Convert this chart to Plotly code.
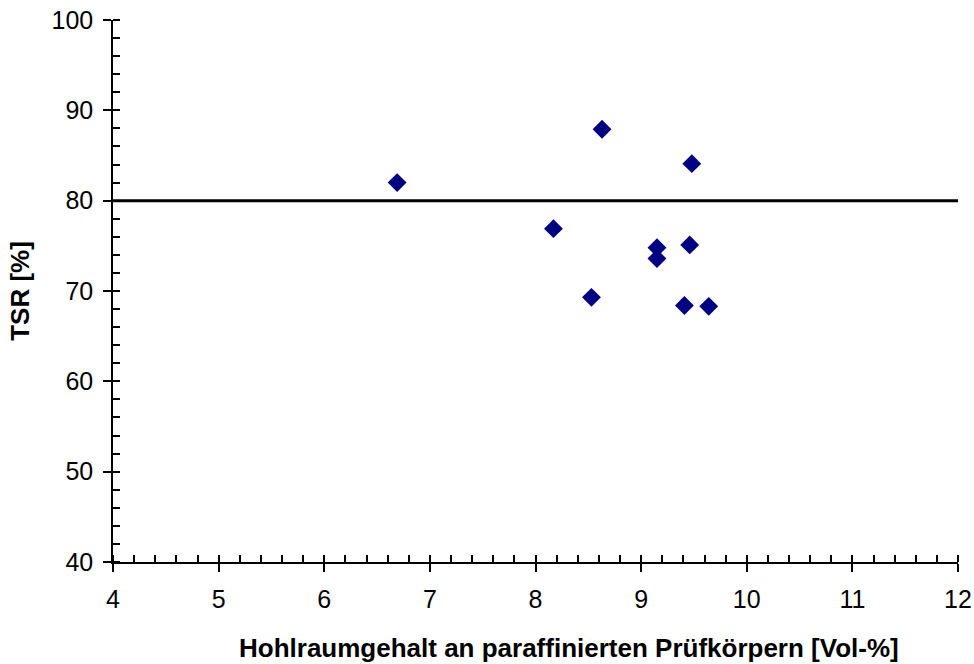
import plotly.graph_objects as go

# Data
hohlraum = [6.69, 8.63, 9.48, 8.17, 9.15, 9.15, 9.46, 8.53, 9.41, 9.64]
tsr = [82.0, 87.9, 84.1, 76.9, 74.8, 73.6, 75.1, 69.3, 68.4, 68.3]
grenzwert = 80

x_range = [4, 12]
y_range = [40, 100]

x_title = "Hohlraumgehalt an paraffinierten Prüfkörpern [Vol-%]"
y_title = "TSR [%]"

fig = go.Figure()

fig.add_trace(go.Scatter(
    x=hohlraum, y=tsr, mode="markers",
    marker=dict(symbol="diamond", size=14.5, color="#000080", line=dict(width=0)),
    showlegend=False, hoverinfo="x+y",
))

fig.add_shape(type="line", xref="x domain", yref="y", x0=0, x1=1,
              y0=grenzwert, y1=grenzwert, line=dict(color="black", width=3))

font_family = "Liberation Sans, Arial, sans-serif"
tick_size = 25
title_size = 26

fig.add_annotation(
    text="<b>" + x_title + "</b>", xref="paper", yref="paper",
    x=0.5396, y=-0.1587, xanchor="center", yanchor="middle",
    showarrow=False, font=dict(size=title_size, family=font_family, color="black"),
)

fig.update_layout(
    width=974, height=664,
    margin=dict(l=113, r=16, t=20, b=102),
    paper_bgcolor="white", plot_bgcolor="white",
    font=dict(family=font_family, size=tick_size, color="black"),
    xaxis=dict(
        range=x_range, dtick=1, tick0=4, automargin=False,
        showgrid=False, zeroline=False,
        showline=True, linecolor="black", linewidth=1.5,
        ticks="outside", ticklen=8, tickwidth=1.5, tickcolor="black",
        minor=dict(dtick=0.2, ticks="inside", ticklen=7, tickwidth=1.5, tickcolor="black", showgrid=False),
        tickfont=dict(size=tick_size), ticklabelstandoff=6,
    ),
    yaxis=dict(
        range=y_range, dtick=10, tick0=40, automargin=False,
        showgrid=False, zeroline=False,
        showline=True, linecolor="black", linewidth=1.5,
        ticks="outside", ticklen=8, tickwidth=1.5, tickcolor="black",
        minor=dict(dtick=2, ticks="inside", ticklen=7, tickwidth=1.5, tickcolor="black", showgrid=False),
        title=dict(text="<b>" + y_title + "</b>", standoff=14, font=dict(size=title_size)),
        tickfont=dict(size=tick_size), ticklabelstandoff=5,
    ),
    xaxis2=dict(
        range=x_range, dtick=1, tick0=4, overlaying="x", anchor="y2", automargin=False,
        showgrid=False, zeroline=False, showline=False, showticklabels=False,
        ticks="inside", ticklen=7, tickwidth=1.5, tickcolor="black", side="bottom",
    ),
    yaxis2=dict(
        range=y_range, dtick=10, tick0=40, overlaying="y", anchor="x2", automargin=False,
        showgrid=False, zeroline=False, showline=False, showticklabels=False,
        ticks="inside", ticklen=7, tickwidth=1.5, tickcolor="black", side="left",
    ),
)

# invisible trace to activate overlay axes
fig.add_trace(go.Scatter(x=[], y=[], xaxis="x2", yaxis="y2", showlegend=False, hoverinfo="skip"))

fig.write_html("out.html", config={"displayModeBar": False},
               post_script="document.body.style.margin='0';document.body.style.overflow='hidden';")
